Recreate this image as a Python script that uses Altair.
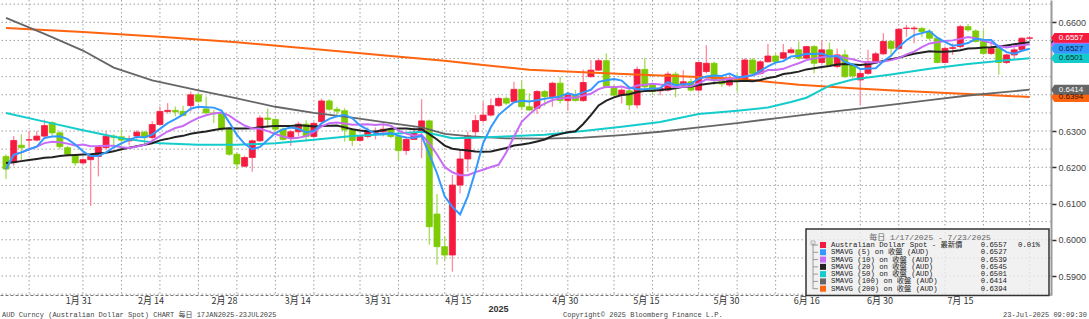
import altair as alt
import pandas as pd

# ---------------- data (index 0 = 17 Jan 2025 ... 133 = 23 Jul 2025) -------------
opens = [0.6230, 0.6213, 0.6261, 0.6275, 0.6275, 0.6286, 0.6323, 0.6295, 0.6254, 0.6233,
         0.6212, 0.6221, 0.6230, 0.6254, 0.6286, 0.6284, 0.6273, 0.6286, 0.6297, 0.6282,
         0.6318, 0.6354, 0.6357, 0.6354, 0.6370, 0.6400, 0.6361, 0.6350, 0.6348, 0.6304,
         0.6236, 0.6203, 0.6227, 0.6273, 0.6336, 0.6332, 0.6305, 0.6280, 0.6298, 0.6319,
         0.6285, 0.6326, 0.6383, 0.6360, 0.6356, 0.6303, 0.6274, 0.6285, 0.6296, 0.6298,
         0.6305, 0.6285, 0.6246, 0.6277, 0.6296, 0.6328, 0.6071, 0.5981, 0.5958, 0.6151,
         0.6223, 0.6298, 0.6329, 0.6344, 0.6370, 0.6390, 0.6381, 0.6415, 0.6367, 0.6363,
         0.6409, 0.6395, 0.6432, 0.6384, 0.6399, 0.6384, 0.6450, 0.6468, 0.6494, 0.6422,
         0.6399, 0.6411, 0.6372, 0.6470, 0.6427, 0.6411, 0.6413, 0.6457, 0.6427, 0.6436,
         0.6413, 0.6464, 0.6487, 0.6441, 0.6427, 0.6445, 0.6439, 0.6496, 0.6459, 0.6491,
         0.6507, 0.6501, 0.6516, 0.6524, 0.6501, 0.6533, 0.6489, 0.6524, 0.6478, 0.6510,
         0.6482, 0.6441, 0.6459, 0.6491, 0.6513, 0.6547, 0.6528, 0.6583, 0.6582, 0.6583,
         0.6574, 0.6556, 0.6489, 0.6528, 0.6533, 0.6588, 0.6576, 0.6547, 0.6514, 0.6528,
         0.6489, 0.6510, 0.6524, 0.6556]
highs = [0.6236, 0.6286, 0.6291, 0.6300, 0.6300, 0.6332, 0.6327, 0.6300, 0.6259, 0.6236,
         0.6224, 0.6236, 0.6261, 0.6300, 0.6291, 0.6304, 0.6288, 0.6302, 0.6300, 0.6327,
         0.6368, 0.6377, 0.6368, 0.6370, 0.6409, 0.6406, 0.6395, 0.6359, 0.6352, 0.6309,
         0.6239, 0.6232, 0.6277, 0.6343, 0.6363, 0.6335, 0.6310, 0.6303, 0.6326, 0.6330,
         0.6326, 0.6390, 0.6388, 0.6367, 0.6363, 0.6308, 0.6289, 0.6310, 0.6310, 0.6317,
         0.6310, 0.6289, 0.6285, 0.6310, 0.6388, 0.6332, 0.6126, 0.6009, 0.6179, 0.6248,
         0.6298, 0.6344, 0.6381, 0.6390, 0.6395, 0.6395, 0.6436, 0.6439, 0.6404, 0.6413,
         0.6413, 0.6436, 0.6450, 0.6409, 0.6413, 0.6470, 0.6496, 0.6501, 0.6514, 0.6427,
         0.6418, 0.6418, 0.6478, 0.6501, 0.6432, 0.6422, 0.6464, 0.6464, 0.6468, 0.6445,
         0.6491, 0.6537, 0.6491, 0.6450, 0.6455, 0.6459, 0.6501, 0.6501, 0.6496, 0.6540,
         0.6514, 0.6540, 0.6531, 0.6547, 0.6535, 0.6537, 0.6551, 0.6544, 0.6528, 0.6524,
         0.6487, 0.6469, 0.6524, 0.6519, 0.6570, 0.6551, 0.6583, 0.6593, 0.6590, 0.6588,
         0.6581, 0.6560, 0.6533, 0.6542, 0.6593, 0.6595, 0.6581, 0.6579, 0.6547, 0.6533,
         0.6514, 0.6531, 0.6559, 0.6559]
lows = [0.6168, 0.6204, 0.6218, 0.6245, 0.6272, 0.6284, 0.6288, 0.6250, 0.6230, 0.6204,
        0.6209, 0.6093, 0.6175, 0.6250, 0.6257, 0.6245, 0.6261, 0.6277, 0.6263, 0.6277,
        0.6315, 0.6348, 0.6341, 0.6341, 0.6354, 0.6377, 0.6348, 0.6322, 0.6300, 0.6232,
        0.6195, 0.6200, 0.6188, 0.6270, 0.6309, 0.6298, 0.6274, 0.6259, 0.6285, 0.6271,
        0.6280, 0.6323, 0.6356, 0.6338, 0.6271, 0.6259, 0.6271, 0.6280, 0.6277, 0.6285,
        0.6280, 0.6220, 0.6234, 0.6275, 0.6225, 0.5986, 0.5931, 0.5944, 0.5912, 0.6128,
        0.6188, 0.6285, 0.6323, 0.6340, 0.6367, 0.6372, 0.6377, 0.6358, 0.6356, 0.6347,
        0.6369, 0.6367, 0.6376, 0.6356, 0.6381, 0.6381, 0.6448, 0.6466, 0.6418, 0.6395,
        0.6376, 0.6358, 0.6363, 0.6413, 0.6399, 0.6399, 0.6409, 0.6393, 0.6422, 0.6409,
        0.6409, 0.6459, 0.6427, 0.6422, 0.6422, 0.6409, 0.6436, 0.6455, 0.6455, 0.6489,
        0.6487, 0.6498, 0.6514, 0.6496, 0.6498, 0.6459, 0.6485, 0.6478, 0.6473, 0.6446,
        0.6446, 0.6372, 0.6455, 0.6487, 0.6510, 0.6510, 0.6524, 0.6560, 0.6542, 0.6560,
        0.6551, 0.6487, 0.6487, 0.6510, 0.6528, 0.6574, 0.6544, 0.6510, 0.6510, 0.6455,
        0.6485, 0.6501, 0.6519, 0.6551]
closes = [0.6195, 0.6274, 0.6254, 0.6276, 0.6286, 0.6315, 0.6295, 0.6257, 0.6236, 0.6212,
          0.6221, 0.6230, 0.6257, 0.6286, 0.6282, 0.6275, 0.6279, 0.6297, 0.6282, 0.6318,
          0.6354, 0.6357, 0.6353, 0.6343, 0.6400, 0.6382, 0.6350, 0.6348, 0.6304, 0.6236,
          0.6209, 0.6227, 0.6273, 0.6336, 0.6332, 0.6305, 0.6277, 0.6298, 0.6319, 0.6285,
          0.6321, 0.6383, 0.6360, 0.6355, 0.6303, 0.6274, 0.6285, 0.6301, 0.6298, 0.6305,
          0.6285, 0.6246, 0.6277, 0.6296, 0.6328, 0.6036, 0.5981, 0.5958, 0.6151, 0.6223,
          0.6287, 0.6329, 0.6344, 0.6370, 0.6390, 0.6377, 0.6415, 0.6367, 0.6358, 0.6409,
          0.6395, 0.6432, 0.6384, 0.6399, 0.6384, 0.6434, 0.6468, 0.6494, 0.6422, 0.6399,
          0.6413, 0.6372, 0.6470, 0.6422, 0.6409, 0.6418, 0.6457, 0.6427, 0.6436, 0.6413,
          0.6489, 0.6487, 0.6441, 0.6430, 0.6446, 0.6439, 0.6496, 0.6459, 0.6491, 0.6507,
          0.6491, 0.6516, 0.6524, 0.6501, 0.6533, 0.6487, 0.6524, 0.6482, 0.6510, 0.6450,
          0.6452, 0.6459, 0.6491, 0.6513, 0.6547, 0.6528, 0.6581, 0.6584, 0.6584, 0.6574,
          0.6556, 0.6489, 0.6528, 0.6530, 0.6588, 0.6579, 0.6547, 0.6514, 0.6528, 0.6489,
          0.6510, 0.6524, 0.6556, 0.6557]

# SMA(20) before a full 20-day window exists
sma20_head = [0.6212, 0.6214, 0.6217, 0.6220, 0.6223, 0.6226, 0.6228, 0.6231, 0.6233, 0.6234,
              0.6235, 0.6236, 0.6238, 0.6240, 0.6244, 0.6250, 0.6254, 0.6258, 0.6262]

# long moving averages
sma50_idx = [0, 5, 10, 15, 20, 25, 30, 35, 40, 45, 50, 54, 56, 58, 62, 66, 70, 75, 80, 85,
             90, 95, 99, 102, 104, 107, 110, 115, 120, 125, 130, 133]
sma50_val = [0.6350, 0.6326, 0.6302, 0.6280, 0.6266, 0.6262, 0.6262, 0.6266, 0.6276, 0.6286,
             0.6292, 0.6298, 0.6290, 0.6280, 0.6282, 0.6286, 0.6290, 0.6300, 0.6312, 0.6325,
             0.6347, 0.6356, 0.6365, 0.6380, 0.6392, 0.6425, 0.6442, 0.6456, 0.6472, 0.6485,
             0.6495, 0.6501]
sma100_idx = [0, 5, 10, 14, 19, 25, 30, 35, 40, 45, 50, 54, 57, 60, 65, 70, 75, 80, 85, 90,
              95, 100, 105, 110, 116, 120, 125, 130, 133]
sma100_val = [0.6612, 0.6568, 0.6522, 0.6475, 0.6440, 0.6412, 0.6390, 0.6367, 0.6350, 0.6337,
              0.6322, 0.6310, 0.6292, 0.6286, 0.6280, 0.6279, 0.6282, 0.6289, 0.6298, 0.6310,
              0.6322, 0.6335, 0.6348, 0.6360, 0.6375, 0.6385, 0.6398, 0.6408, 0.6414]
sma200_idx = [0, 10, 20, 30, 40, 50, 57, 62, 68, 75, 81, 90, 95, 103, 110, 116, 125, 133]
sma200_val = [0.6584, 0.6573, 0.6560, 0.6545, 0.6526, 0.6507, 0.6494, 0.6482, 0.6469, 0.6462,
              0.6457, 0.6449, 0.6444, 0.6428, 0.6418, 0.6411, 0.6402, 0.6394]

# legend / last-value tags
legend_names = ["Australian Dollar Spot - 最新價", "SMAVG (5) on 收盤 (AUD)",
                "SMAVG (10) on 收盤 (AUD)", "SMAVG (20) on 收盤 (AUD)",
                "SMAVG (50) on 收盤 (AUD)", "SMAVG (100) on 收盤 (AUD)",
                "SMAVG (200) on 收盤 (AUD)"]
legend_values = [0.6557, 0.6527, 0.6539, 0.6545, 0.6501, 0.6414, 0.6394]
legend_extra = ["0.01%", "", "", "", "", "", ""]
series_colors = ["#f51b3f", "#3399ff", "#c86cf5", "#222222", "#14cccc", "#666666", "#ff6410"]
tag_text_colors = ["#ffffff", "#0a1a40", "#ffffff", "#ffffff", "#053030", "#ffffff", "#301000"]
tag_order = [3, 2, 6, 5, 4, 1, 0]          # drawing order, red on top
tag_label_visible = [True, True, False, False, True, True, True]  # black/purple tags are hidden

# axes / grid (0.6400 and 0.6500 labels are covered by value tags in the original)
ytick_values = [0.59, 0.60, 0.61, 0.62, 0.63, 0.66]
hgrid_levels = [0.585, 0.590, 0.595, 0.600, 0.605, 0.610, 0.615, 0.620, 0.625, 0.630,
                0.635, 0.640, 0.645, 0.650, 0.655, 0.660, 0.665]
vgrid_idx = [3, 10, 15, 20, 25, 30, 35, 40, 46, 51, 57, 62, 67, 73, 79, 84, 90, 95, 100,
             106, 111, 116, 122, 127, 133]
xlabel_pos = [9.39, 18.79, 28.31, 37.84, 48.26, 58.69, 72.59, 83.14, 93.56, 103.99, 113.51, 123.94]
xlabel_text = ["1月 31", "2月 14", "2月 28", "3月 14", "3月 31", "4月 15", "4月 30",
               "5月 15", "5月 30", "6月 16", "6月 30", "7月 15"]

# ---------------- tables ----------------
n = len(closes)
df = pd.DataFrame({"i": list(range(n)), "open": opens, "high": highs, "low": lows,
                   "close": closes,
                   "sma20_head": sma20_head + [None] * (n - len(sma20_head))})
s50 = pd.DataFrame({"i": sma50_idx, "v": sma50_val})
s100 = pd.DataFrame({"i": sma100_idx, "v": sma100_val})
s200 = pd.DataFrame({"i": sma200_idx, "v": sma200_val})
tags = pd.DataFrame({"value": [legend_values[k] for k in tag_order],
                     "color": [series_colors[k] for k in tag_order],
                     "tcolor": [tag_text_colors[k] for k in tag_order],
                     "show": [tag_label_visible[k] for k in tag_order]})
leg = pd.DataFrame({"row": list(range(len(legend_names))), "name": legend_names,
                    "value": [f"{v:.4f}" for v in legend_values], "extra": legend_extra,
                    "color": series_colors})
hg = pd.DataFrame({"p": hgrid_levels})
vg = pd.DataFrame({"i": vgrid_idx})
one = pd.DataFrame({"a": [0]})

XS = alt.Scale(domain=[-0.13, 135.13], nice=False, zero=False)
YS = alt.Scale(domain=[0.58477, 0.66615], nice=False, zero=False)

label_expr = " : ".join(f"datum.value == {p} ? '{t}'" for p, t in zip(xlabel_pos, xlabel_text)) + " : ''"

x_axis = alt.Axis(values=xlabel_pos, labelExpr=label_expr, ticks=False, grid=False,
                  domainColor="#777777", domainDash=[3, 2], domainWidth=1,
                  labelFont="Noto Sans CJK SC", labelFontSize=9, labelColor="#333333",
                  labelPadding=1, labelOverlap=False, labelFlush=False,
                  title="2025", titleX=498, titleY=13, titleFontSize=9, titleFontWeight="bold",
                  titleColor="#333333", titleBaseline="middle", titleAlign="center",
                  titleFont="Liberation Sans")
y_axis = alt.Axis(orient="right", values=ytick_values, format=".4f", grid=False,
                  domainColor="#999999", domainWidth=2, tickColor="#333333", tickSize=5,
                  tickWidth=1.5, labelFont="Liberation Sans", labelFontSize=9,
                  labelColor="#444444", labelPadding=2, title=None)


def X(f):
    return alt.X(f, type="quantitative", scale=XS, axis=x_axis)


def Y(f):
    return alt.Y(f, type="quantitative", scale=YS, axis=y_axis)


up = "datum.close >= datum.open"

vgrid = alt.Chart(vg).mark_rule(color="#a0a0a0", strokeDash=[1.5, 2.5], strokeWidth=1).encode(x=X("i"))
hgrid = alt.Chart(hg).mark_rule(color="#a0a0a0", strokeDash=[1.5, 2.5], strokeWidth=1).encode(y=Y("p"))

wicks = alt.Chart(df).mark_rule(strokeWidth=1.3).encode(
    x=X("i"), y=Y("low"), y2="high",
    color=alt.condition(up, alt.value("#ff8a9c"), alt.value("#a6dc5a")))
bodies = alt.Chart(df).mark_bar(size=6, strokeWidth=0.8).encode(
    x=X("i"), y=Y("open"), y2="close",
    color=alt.condition(up, alt.value("#f51b3f"), alt.value("#7dcc05")),
    stroke=alt.condition(up, alt.value("#f51b3f"), alt.value("#7dcc05")))

ma_base = alt.Chart(df).transform_window(
    sma5="mean(close)", frame=[-4, 0], sort=[alt.SortField("i")]
).transform_window(
    sma10="mean(close)", frame=[-9, 0], sort=[alt.SortField("i")]
).transform_window(
    sma20w="mean(close)", frame=[-19, 0], sort=[alt.SortField("i")]
).transform_calculate(sma20="datum.i < 19 ? datum.sma20_head : datum.sma20w")

l200 = alt.Chart(s200).mark_line(color=series_colors[6], strokeWidth=2).encode(x=X("i"), y=Y("v"))
l100 = alt.Chart(s100).mark_line(color=series_colors[5], strokeWidth=1.8).encode(x=X("i"), y=Y("v"))
l50 = alt.Chart(s50).mark_line(color=series_colors[4], strokeWidth=2).encode(x=X("i"), y=Y("v"))
l20 = ma_base.mark_line(color=series_colors[3], strokeWidth=2).encode(x=X("i"), y=Y("sma20"))
l10 = ma_base.mark_line(color=series_colors[2], strokeWidth=2).encode(x=X("i"), y=Y("sma10"))
l5 = ma_base.mark_line(color=series_colors[1], strokeWidth=2).encode(x=X("i"), y=Y("sma5"))

tag_shape = alt.Chart(tags).mark_point(
    shape="M -1 0 L -0.82 -0.26 L 1 -0.26 L 1 0.26 L -0.82 0.26 Z",
    size=1444, filled=True, opacity=1, strokeWidth=0).encode(
    x=alt.value(1070), y=Y("value"), color=alt.Color("color:N", scale=None))
tag_text = alt.Chart(tags).transform_filter("datum.show").mark_text(
    font="Liberation Sans", fontSize=8, align="center", baseline="middle").encode(
    x=alt.value(1071), y=Y("value"), text=alt.Text("value:Q", format=".4f"),
    color=alt.Color("tcolor:N", scale=None))

main = alt.layer(vgrid, hgrid, wicks, bodies, l200, l100, l50, l20, l10, l5, tag_shape, tag_text)

# ---------------- legend box + footer ----------------
LY = alt.Y("row:O", scale=alt.Scale(type="point", range=[245, 288.7], padding=0), axis=None)
mono = "Liberation Mono, Noto Sans CJK TC"

box = alt.Chart(one).mark_rect(fill="#eeeeee", fillOpacity=0.8, stroke="#333333",
                               strokeWidth=1.5).encode(
    x=alt.value(806), x2=alt.value(1049), y=alt.value(229), y2=alt.value(295.5))
tree_v = alt.Chart(one).mark_rule(color="#999999", strokeWidth=1).encode(
    x=alt.value(813), y=alt.value(243), y2=alt.value(289))
tree_top = alt.Chart(one).mark_square(size=16, filled=False, color="#999999", strokeWidth=1).encode(
    x=alt.value(813), y=alt.value(243))
tree_h = alt.Chart(leg).mark_rule(color="#999999", strokeWidth=1).encode(
    x=alt.value(813), x2=alt.value(818), y=LY)
leg_title = alt.Chart(one).mark_text(font=mono, fontSize=8, color="#666666", align="center",
                                     baseline="middle").encode(
    x=alt.value(930), y=alt.value(237.5), text=alt.value("每日 1/17/2025 - 7/23/2025"))
swatch = alt.Chart(leg).mark_square(size=36, opacity=1).encode(
    x=alt.value(823), y=LY, color=alt.Color("color:N", scale=None))
names = alt.Chart(leg).mark_text(font=mono, fontSize=7.3, color="#222222", align="left",
                                 baseline="middle").encode(x=alt.value(831), y=LY, text="name:N")
vals = alt.Chart(leg).mark_text(font=mono, fontSize=7.3, color="#222222", align="right",
                                baseline="middle").encode(x=alt.value(1007), y=LY, text="value:N")
extra = alt.Chart(leg).mark_text(font=mono, fontSize=7.3, color="#222222", align="right",
                                 baseline="middle").encode(x=alt.value(1040), y=LY, text="extra:N")

foot_l = alt.Chart(one).mark_text(font=mono, fontSize=7, color="#444444", align="left",
                                  baseline="middle").encode(
    x=alt.value(2), y=alt.value(314.5),
    text=alt.value("AUD Curncy (Australian Dollar Spot) CHART  每日 17JAN2025-23JUL2025"))
foot_c = alt.Chart(one).mark_text(font=mono, fontSize=7, color="#444444", align="left",
                                  baseline="middle").encode(
    x=alt.value(563), y=alt.value(314.5),
    text=alt.value("Copyright© 2025 Bloomberg Finance L.P."))
foot_r = alt.Chart(one).mark_text(font=mono, fontSize=7, color="#444444", align="right",
                                  baseline="middle").encode(
    x=alt.value(1087), y=alt.value(314.5), text=alt.value("23-Jul-2025 09:09:30"))

legend = alt.layer(box, tree_v, tree_h, tree_top, leg_title, swatch, names, vals, extra,
                   foot_l, foot_c, foot_r)

chart = alt.layer(main, legend).resolve_scale(y="independent").properties(
    width=1051, height=295,
    padding={"left": 0, "top": 0, "right": 38, "bottom": 24},
    autosize=alt.AutoSizeParams(type="none"),
    background="white",
).configure_view(stroke=None)

chart.save("out.html", embed_options={"renderer": "svg", "actions": False})
